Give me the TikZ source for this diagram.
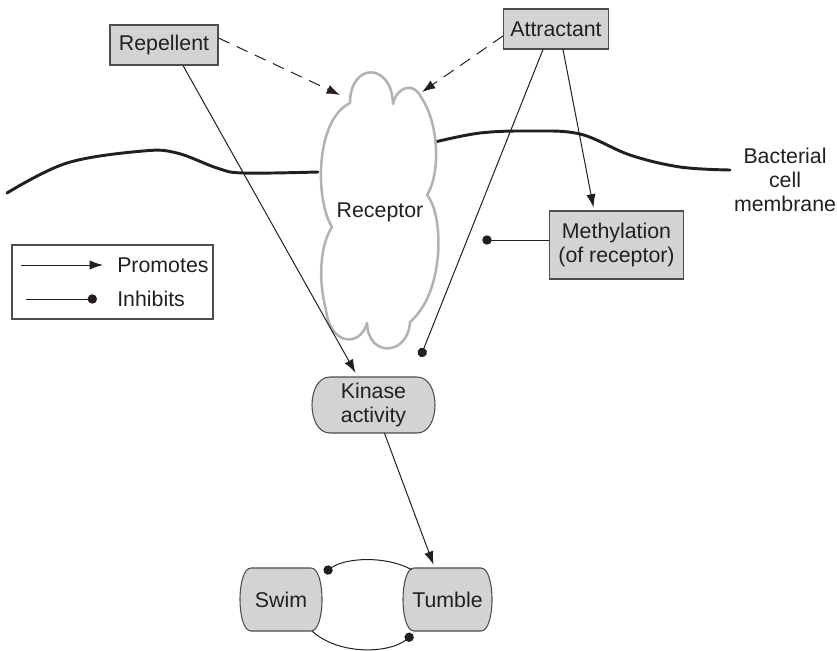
\documentclass[tikz,border=0pt]{standalone}
\usepackage{fontspec}
\setmainfont{Liberation Sans}
\usetikzlibrary{arrows.meta,calc}

\definecolor{boxfill}{HTML}{D3D3D3}
\definecolor{boxline}{HTML}{4D4D4D}
\definecolor{ink}{HTML}{231F20}
\definecolor{cloudline}{HTML}{B2B2B2}

% barrel-shaped box: straight top and bottom, bulging sides
% #1,#2 top-left corner, #3,#4 bottom-right corner, #5 corner inset
\newcommand\barrelshape[5]{%
  \filldraw[barrel] ({#1+#5},#2) -- ({#3-#5},#2)
    .. controls ({#3+#5/3},#2) and ({#3+#5/3},#4) .. ({#3-#5},#4)
    -- ({#1+#5},#4)
    .. controls ({#1-#5/3},#4) and ({#1-#5/3},#2) .. ({#1+#5},#2) -- cycle;}

\tikzset{
  barrel/.style={draw=boxline, fill=boxfill, line width=0.8pt},
  plainbox/.style={draw=boxline, fill=boxfill, line width=0.8pt,
    inner sep=0pt, align=center, text=ink},
  label/.style={inner sep=0pt, align=center, text=ink},
  promote/.style={draw=ink, line width=0.75pt, -{Latex[length=10pt,width=7pt]}},
  inhibit/.style={draw=ink, line width=0.75pt, -{Circle[length=7pt]}},
  hint/.style={promote, dash pattern=on 9pt off 6pt},
  membrane/.style={draw=ink, line width=2.2pt, line cap=round},
}

\begin{document}
\begin{tikzpicture}[x=0.75pt, y=-0.75pt, font=\fontsize{16pt}{18pt}\selectfont]
\useasboundingbox (0,0) rectangle (837,650);

% cell membrane
\draw[membrane] plot[smooth, tension=0.6] coordinates
  {(7,193) (67,163) (143,151) (177,153) (217,168) (243,173) (318,172)};
\draw[membrane] plot[smooth, tension=0.6] coordinates
  {(435,142) (480,133) (530,131) (580,134) (630,155) (680,167) (730,170)};
\node[label] (mem) at (785,180) {Bacterial\\cell\\membrane};

% receptor cloud
\draw[cloudline, line width=1.9pt, fill=white, line join=round]
  (350,103) .. controls (350,62) and (392,62) .. (393,104)
  .. controls (397,86) and (414,82) .. (421,97)
  .. controls (440,125) and (440,175) .. (427,195)
  .. controls (444,215) and (445,292) .. (410,322)
  .. controls (408,356) and (368,358) .. (367,323)
  .. controls (360,348) and (330,345) .. (326,310)
  .. controls (318,280) and (320,245) .. (332,227)
  .. controls (315,200) and (315,120) .. (350,103) -- cycle;
\node[label] (rec) at (380,212) {Receptor};

% boxes
\node[plainbox, minimum width=81pt, minimum height=30pt] (rep) at (164,45) {Repellent};
\node[plainbox, minimum width=78.75pt, minimum height=30pt] (att) at (556,29) {Attractant};
\node[plainbox, minimum width=100pt, minimum height=51pt] (meth) at (616.5,245)
  {Methylation\\(of receptor)};

\barrelshape{312}{377}{435}{433}{18}
\node[label, minimum width=92.25pt, minimum height=42pt] (kin) at (373.5,405) {Kinase\\activity};
\barrelshape{240}{568}{322}{631}{11}
\node[label, minimum width=61.5pt, minimum height=47.25pt] (swim) at (281,599.5) {Swim};
\barrelshape{403}{568}{492}{631}{11}
\node[label, minimum width=66.75pt, minimum height=47.25pt] (tumble) at (447.5,599.5) {Tumble};

% free ends of the inhibition links
\coordinate (kdot) at ($(kin.north)+(47,-20)$);
\coordinate (mdot) at ($(meth.west)+(-67,-5)$);

% connectors
\draw[hint] ($(rep.east)+(0,-7)$) -- ($(rec)+(-40,-117)$);
\draw[hint] ($(att.west)+(0,7)$) -- ($(rec)+(42,-120)$);
\draw[promote] ($(rep.south)+(19,0)$) -- ($(kin.north)+(-18,-4)$);
\draw[promote] ($(att.south)+(7,0)$) -- ($(meth.north)+(-23,-3)$);
\draw[inhibit] ($(att.south)+(-13,0)$) -- (kdot);
\draw[inhibit] ($(meth.west)+(0,-5)$) -- (mdot);
\draw[promote] ($(kin.south)+(11,0)$) -- ($(tumble.north)+(-14,-3)$);
\draw[inhibit] ($(tumble.north west)+(9,2)$)
  .. controls (385,555) and (345,558) .. ($(swim.north east)+(2,5)$);
\draw[inhibit] ($(swim.south east)+(-10,0)$)
  .. controls (340,656) and (390,653) .. ($(tumble.south west)+(10,3)$);

% legend
\node[draw=boxline, line width=0.8pt, minimum width=150.75pt, minimum height=55.5pt,
  inner sep=0pt] (leg) at (112.5,282) {};
\node[label, anchor=west] (tprom) at (117,265) {Promotes};
\node[label, anchor=west] (tinh) at (117,299) {Inhibits};
\coordinate (lp) at ($(leg.west)+(10,-17)$);
\coordinate (li) at ($(leg.west)+(15,17)$);
\draw[promote] (lp) -- ($(tprom.west)+(-14,0)$);
\draw[inhibit] (li) -- ($(tinh.west)+(-20,0)$);
\end{tikzpicture}
\end{document}
